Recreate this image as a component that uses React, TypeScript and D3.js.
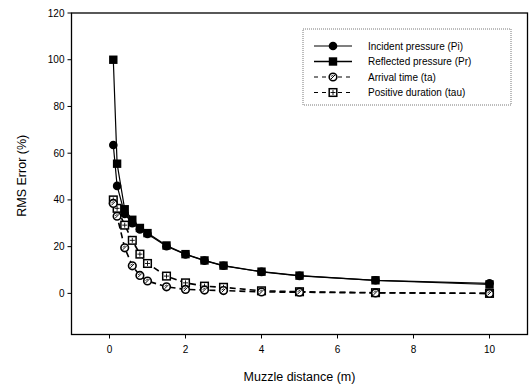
import React from "react";
import * as d3 from "d3";

const xValues = [0.1, 0.2, 0.4, 0.6, 0.8, 1, 1.5, 2, 2.5, 3, 4, 5, 7, 10];
const incidentPi = [63.5, 46, 34, 30, 27.4, 25.4, 20.2, 16.7, 14, 11.8, 9.2, 7.5, 5.6, 4.3];
const reflectedPr = [100, 55.5, 36, 31.5, 28, 25.8, 20.5, 16.8, 14.1, 11.9, 9.3, 7.6, 5.6, 3.8];
const arrivalTa = [38.5, 33, 19.5, 11.8, 7.7, 5.3, 2.8, 1.7, 1.4, 1.2, 0.6, 0.5, 0.2, 0];
const durationTau = [40, 36.4, 29.2, 22.7, 16.8, 12.8, 7.4, 4.5, 3.1, 2.6, 1.1, 0.7, 0.3, 0];
const xTicks = [0, 2, 4, 6, 8, 10];
const yTicks = [0, 20, 40, 60, 80, 100, 120];
const seriesNames = ["Incident pressure (Pi)", "Reflected pressure (Pr)", "Arrival time (ta)", "Positive duration (tau)"];

const W = 530, H = 390;
const L = 71.5, R = 527.5, T = 13, B = 334.5;
const FONT = "Liberation Sans, Arial, sans-serif";

type Kind = "fcircle" | "fsquare" | "ocircle" | "osquare";

function Marker({ x, y, kind }: { x: number; y: number; kind: Kind }) {
  if (kind === "fcircle") return <circle cx={x} cy={y} r={4.3} fill="#000" />;
  if (kind === "fsquare") return <rect x={x - 4.2} y={y - 4.2} width={8.4} height={8.4} fill="#000" />;
  if (kind === "ocircle")
    return (
      <g>
        <circle cx={x} cy={y} r={3.8} fill="#fff" stroke="#000" strokeWidth={1.6} />
        <line x1={x - 2} y1={y + 2} x2={x + 2} y2={y - 2} stroke="#000" strokeWidth={1} />
        <line x1={x - 2} y1={y - 0.5} x2={x + 0.5} y2={y - 2} stroke="#000" strokeWidth={0.8} />
      </g>
    );
  return (
    <g>
      <rect x={x - 3.8} y={y - 3.8} width={7.6} height={7.6} fill="#fff" stroke="#000" strokeWidth={1.5} />
      <line x1={x} y1={y - 2.5} x2={x} y2={y + 2.5} stroke="#000" strokeWidth={0.9} />
      <line x1={x - 2.5} y1={y} x2={x + 2.5} y2={y} stroke="#000" strokeWidth={0.9} />
    </g>
  );
}

export default function App() {
  const x = d3.scaleLinear().domain([-1, 11]).range([L, R]);
  const y = d3.scaleLinear().domain([-17.6, 120]).range([B, T]);
  const line = d3
    .line<[number, number]>()
    .x((d) => x(d[0]))
    .y((d) => y(d[1]));

  const series: { vals: number[]; kind: Kind; dash?: string; sw: number }[] = [
    { vals: durationTau, kind: "osquare", dash: "6,4", sw: 1.6 },
    { vals: arrivalTa, kind: "ocircle", dash: "6,4", sw: 1.6 },
    { vals: reflectedPr, kind: "fsquare", sw: 1.2 },
    { vals: incidentPi, kind: "fcircle", sw: 1.2 },
  ];
  const legendOrder: { kind: Kind; dash?: string; sw: number }[] = [
    { kind: "fcircle", sw: 1.2 },
    { kind: "fsquare", sw: 1.6 },
    { kind: "ocircle", dash: "4,4", sw: 1.2 },
    { kind: "osquare", dash: "4,4", sw: 1.2 },
  ];

  return (
    <svg
      width={W}
      height={H}
      style={{ position: "absolute", left: 0, top: 0, background: "#fff" }}
      fontFamily={FONT}
    >
      <rect x={0} y={0} width={W} height={H} fill="#fff" />
      {/* frame */}
      <rect x={L} y={T} width={R - L} height={B - T} fill="none" stroke="#000" strokeWidth={1.3} />
      {/* y ticks */}
      {yTicks.map((t) => (
        <g key={"y" + t}>
          <line x1={L - 4} x2={L} y1={y(t)} y2={y(t)} stroke="#000" strokeWidth={1} />
          <text x={L - 7} y={y(t)} dy="0.35em" textAnchor="end" fontSize={10}>
            {t}
          </text>
        </g>
      ))}
      {/* x ticks */}
      {xTicks.map((t) => (
        <g key={"x" + t}>
          <line x1={x(t)} x2={x(t)} y1={B} y2={B + 4} stroke="#000" strokeWidth={1} />
          <text x={x(t)} y={B + 18} textAnchor="middle" fontSize={10}>
            {t}
          </text>
        </g>
      ))}
      <text x={(L + R) / 2} y={381} textAnchor="middle" fontSize={12.5}>
        Muzzle distance (m)
      </text>
      <text
        transform={`translate(26,${(T + B) / 2 + 2}) rotate(-90)`}
        textAnchor="middle"
        fontSize={12.5}
      >
        RMS Error (%)
      </text>
      {/* lines */}
      {series.map((s, i) => (
        <path
          key={"l" + i}
          d={line(xValues.map((xv, j) => [xv, s.vals[j]] as [number, number])) || ""}
          fill="none"
          stroke="#000"
          strokeWidth={s.sw}
          strokeDasharray={s.dash}
        />
      ))}
      {series.map((s, i) => (
        <g key={"m" + i}>
          {xValues.map((xv, j) => (
            <Marker key={j} x={x(xv)} y={y(s.vals[j])} kind={s.kind} />
          ))}
        </g>
      ))}
      {/* legend */}
      <rect x={303} y={29} width={208} height={76} fill="#fff" stroke="#555" strokeWidth={0.8} strokeDasharray="1,1" />
      {seriesNames.map((name, i) => {
        const ly = 46 + i * 15.5;
        const lo = legendOrder[i];
        return (
          <g key={"lg" + i}>
            <line x1={314} x2={352} y1={ly} y2={ly} stroke="#000" strokeWidth={lo.sw} strokeDasharray={lo.dash} />
            <Marker x={333} y={ly} kind={lo.kind} />
            <text x={368} y={ly} dy="0.35em" fontSize={10}>
              {name}
            </text>
          </g>
        );
      })}
    </svg>
  );
}
